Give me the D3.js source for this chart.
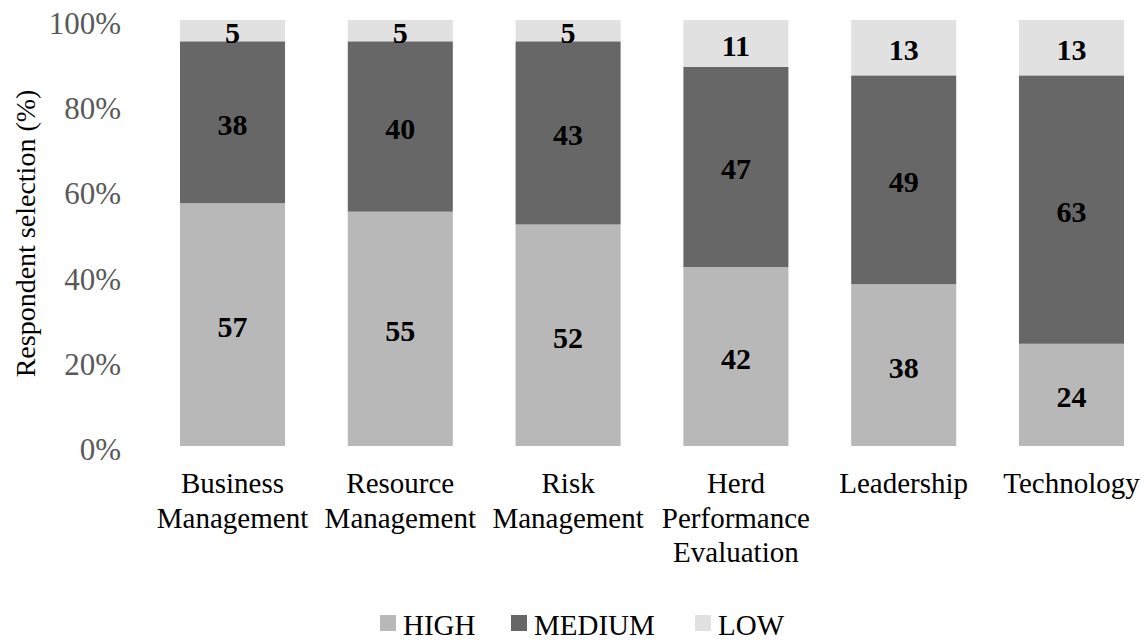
<!DOCTYPE html>
<html>
<head>
<meta charset="utf-8">
<script src="https://cdn.jsdelivr.net/npm/d3@7"></script>
<style>
  html, body { margin: 0; padding: 0; background: #fff; }
  svg text { font-family: "Liberation Serif", "Times New Roman", Times, "DejaVu Serif", serif; }
</style>
</head>
<body>
<svg id="chart" width="1145" height="643"></svg>
<script>
// Skill areas (multi-line labels split on "|")
const categories = [
  "Business|Management",
  "Resource|Management",
  "Risk|Management",
  "Herd|Performance|Evaluation",
  "Leadership",
  "Technology"
];
const seriesNames = ["HIGH", "MEDIUM", "LOW"];
const highValues   = [57, 55, 52, 42, 38, 24];
const mediumValues = [38, 40, 43, 47, 49, 63];
const lowValues    = [5, 5, 5, 11, 13, 13];
const yTicks = [0, 20, 40, 60, 80, 100];
const colors = ["#b7b8b7", "#666766", "#e0e1e0"];

const FONT = "'Liberation Serif', 'Times New Roman', Times, 'DejaVu Serif', serif";

const rows = categories.map((c, i) => ({
  cat: c, HIGH: highValues[i], MEDIUM: mediumValues[i], LOW: lowValues[i]
}));

const svg = d3.select("#chart");

const x = d3.scaleBand()
  .domain(categories)
  .range([148.6, 1155.4])
  .paddingInner(0.374)
  .paddingOuter(0.187);

const y = d3.scaleLinear().domain([0, 100]).range([446, 20]);

const stack = d3.stack().keys(seriesNames).offset(d3.stackOffsetExpand);
const layers = stack(rows);

// Bars
const g = svg.append("g");
layers.forEach((layer, li) => {
  g.selectAll(null)
    .data(layer)
    .enter()
    .append("rect")
    .attr("x", d => x(d.data.cat))
    .attr("width", x.bandwidth())
    .attr("y", d => y(d[1] * 100))
    .attr("height", d => y(d[0] * 100) - y(d[1] * 100))
    .attr("fill", colors[li]);
});

// Value labels
layers.forEach((layer, li) => {
  g.selectAll(null)
    .data(layer)
    .enter()
    .append("text")
    .attr("x", d => x(d.data.cat) + x.bandwidth() / 2)
    .attr("y", d => (y(d[0] * 100) + y(d[1] * 100)) / 2 + 12.5)
    .attr("text-anchor", "middle")
    .attr("font-family", FONT)
    .attr("font-size", 30)
    .attr("font-weight", "bold")
    .attr("fill", "#000")
    .text(d => d.data[layer.key]);
});

// Y axis tick labels (no line, no ticks)
const yAxis = d3.axisLeft(y)
  .tickValues(yTicks)
  .tickFormat(d => d + "%")
  .tickSize(0)
  .tickPadding(0);
const ya = svg.append("g").attr("transform", "translate(121,0)").call(yAxis);
ya.attr("font-family", FONT);
ya.select(".domain").remove();
ya.selectAll("text")
  .attr("font-family", FONT)
  .attr("font-size", 31)
  .attr("fill", "#595959")
  .attr("dy", null)
  .attr("y", 13.5);

// Y axis title
svg.append("text")
  .attr("transform", "translate(35,233.5) rotate(-90)")
  .attr("text-anchor", "middle")
  .attr("font-family", FONT)
  .attr("font-size", 28)
  .attr("fill", "#000")
  .text("Respondent selection (%)");

// Category labels
const xa = svg.append("g");
categories.forEach(c => {
  const t = xa.append("text")
    .attr("x", x(c) + x.bandwidth() / 2)
    .attr("y", 493)
    .attr("text-anchor", "middle")
    .attr("font-family", FONT)
    .attr("font-size", 29)
    .attr("fill", "#000");
  c.split("|").forEach((line, i) => {
    t.append("tspan")
      .attr("x", x(c) + x.bandwidth() / 2)
      .attr("y", 493 + i * 34.5)
      .text(line);
  });
});

// Legend
const legendX = [380, 511, 695];
const legend = svg.append("g");
seriesNames.forEach((name, i) => {
  legend.append("rect")
    .attr("x", legendX[i])
    .attr("y", 615)
    .attr("width", 16)
    .attr("height", 16)
    .attr("fill", colors[i]);
  legend.append("text")
    .attr("x", legendX[i] + 23)
    .attr("y", 635)
    .attr("font-family", FONT)
    .attr("font-size", 29)
    .attr("fill", "#000")
    .text(name);
});
</script>
</body>
</html>
